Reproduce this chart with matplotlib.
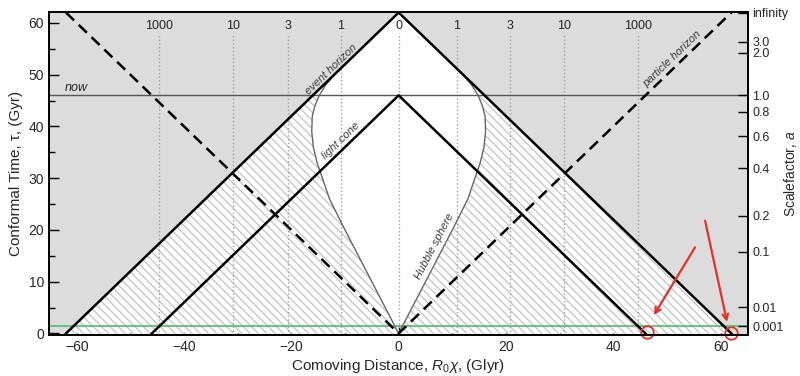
import matplotlib
matplotlib.use("Agg")
from matplotlib import pyplot as plt

plt.rcParams['font.family'] = ['Liberation Sans', 'DejaVu Sans']
plt.rcParams['mathtext.fontset'] = 'custom'
plt.rcParams['mathtext.rm'] = 'Liberation Sans'
plt.rcParams['mathtext.it'] = 'Liberation Sans:italic'
plt.rcParams['hatch.linewidth'] = 0.9

# horizons, in (comoving distance Glyr, conformal time Gyr)
eh_x = [-62, 0, 62]
eh_tau = [0, 62, 0]
lc_x = [-46, 0, 46]
lc_tau = [0, 46, 0]
ph_x = [-62, 0, 62]
ph_tau = [62, 0, 62]
now_tau = 46
green_tau = 1.35

# hubble sphere (right half, mirrored for the left)
hub_tau = [0, 10, 20, 26, 30, 33, 36, 39, 42, 44, 46, 48, 50, 52, 62]
hub_x = [0, 5, 10, 12.9, 14.2, 15.2, 15.9, 16.2, 16.1, 15.6, 14.8, 13.6, 12.0, 10.0, 0]

# redshift marks along the top
z_pos = [-44.6, -30.9, -20.7, -10.8, 0, 10.8, 20.7, 30.9, 44.6]
z_labels = ["1000", "10", "3", "1", "0", "1", "3", "10", "1000"]

# scale factor axis
a_tau = [62, 56.4, 54.2, 46, 42.8, 38.1, 31.9, 22.7, 15.8, 5.1, 1.4]
a_labels = ["infinity", "3.0", "2.0", "1.0", "0.8", "0.6", "0.4", "0.2", "0.1", "0.01", "0.001"]

txt = "#262626"
fig = plt.figure(figsize=(8, 3.76), dpi=100)
ax = fig.add_axes([0.061, 0.109, 0.874, 0.859])
ax.set_facecolor("#dcdcdc")
ax.set_xlim(-65.2, 65.1)
ax.set_ylim(-0.3, 62.1)

# white inside the event horizon
ax.fill(eh_x, eh_tau, facecolor="white", linewidth=0, zorder=1)

# hatched region: inside event horizon, outside hubble sphere, before now
for s in (-1, 1):
    px = [s * x for x, t in zip(hub_x, hub_tau) if t <= now_tau]
    pt = [t for t in hub_tau if t <= now_tau]
    px += [s * (62 - now_tau), s * 62]
    pt += [now_tau, 0]
    ax.fill(px, pt, facecolor="white", edgecolor="#c4c4c4", hatch="\\\\\\\\",
            linewidth=0, zorder=2)

# redshift verticals
for x, lab in zip(z_pos, z_labels):
    ax.plot([x, x], [-0.3, 58], color="#a0a0a0", ls=":", lw=1, zorder=3)
    ax.text(x, 59.4, lab, ha="center", va="center", fontsize=9, color=txt, zorder=6)

ax.axhline(now_tau, color="#555555", lw=1, zorder=4)
ax.axhline(green_tau, color="#4cbf6a", lw=1.2, zorder=4)

ax.plot(hub_x, hub_tau, color="#666666", lw=1, zorder=4)
ax.plot([-x for x in hub_x], hub_tau, color="#666666", lw=1, zorder=4)
ax.plot(eh_x, eh_tau, color="black", lw=1.8, zorder=5)
ax.plot(lc_x, lc_tau, color="black", lw=1.8, zorder=5)
ax.plot(ph_x, ph_tau, color="black", lw=1.8, ls=(0, (4.5, 2.6)), zorder=5)

ax.text(-62.3, 47.4, "now", fontsize=9, style="italic", color=txt, va="center")
ax.text(-12.5, 51.1, "event horizon", fontsize=8, style="italic", color="#3a3a3a",
        rotation=44, ha="center", va="center", zorder=6)
ax.text(-10.8, 37.3, "light cone", fontsize=8, style="italic", color="#3a3a3a",
        rotation=44, ha="center", va="center", zorder=6)
ax.text(51.0, 53.1, "particle horizon", fontsize=8, style="italic", color="#3a3a3a",
        rotation=44, ha="center", va="center", zorder=6)
ax.text(6.7, 16.9, "Hubble sphere", fontsize=8, style="italic", color="#3a3a3a",
        rotation=62.5, ha="center", va="center", zorder=6)

# red marks
ax.annotate("", xy=(47.3, 3.1), xytext=(55.5, 17.1),
            arrowprops=dict(arrowstyle="->", color="#e8302a", lw=1.6), zorder=7)
ax.annotate("", xy=(61.3, 1.7), xytext=(57.0, 22.3),
            arrowprops=dict(arrowstyle="->", color="#e8302a", lw=1.6), zorder=7)
ax.plot([46.2, 62.0], [0.2, 0.0], "o", ms=9, mfc="none", mec="#e8302a", mew=1.3,
        clip_on=False, zorder=7)

ax.set_xticks([-60, -40, -20, 0, 20, 40, 60])
ax.set_xticks([-50, -30, -10, 10, 30, 50], minor=True)
ax.set_yticks([0, 10, 20, 30, 40, 50, 60])
ax.set_yticks([5, 15, 25, 35, 45, 55], minor=True)
ax.tick_params(which="major", direction="in", length=7, width=1, labelsize=10,
               labelcolor=txt)
ax.tick_params(which="minor", direction="in", length=4, width=1)
for sp in ax.spines.values():
    sp.set_linewidth(1.3)

ax.set_xlabel("Comoving Distance, $R_0\\chi$, (Glyr)", fontsize=11, color=txt, labelpad=2)
ax.set_ylabel("Conformal Time, τ, (Gyr)", fontsize=11, color=txt, labelpad=4)

ax2 = ax.twinx()
ax2.set_ylim(ax.get_ylim())
ax2.set_yticks(a_tau)
ax2.set_yticklabels(a_labels)
ax2.tick_params(direction="in", length=7, width=1, labelsize=9, labelcolor=txt, pad=3)
ax2.set_ylabel("Scalefactor, $a$", fontsize=10, color=txt)
ax2.yaxis.set_label_coords(1.049, 0.5)
for sp in ax2.spines.values():
    sp.set_linewidth(1.3)

plt.savefig("out.png", dpi=100)
